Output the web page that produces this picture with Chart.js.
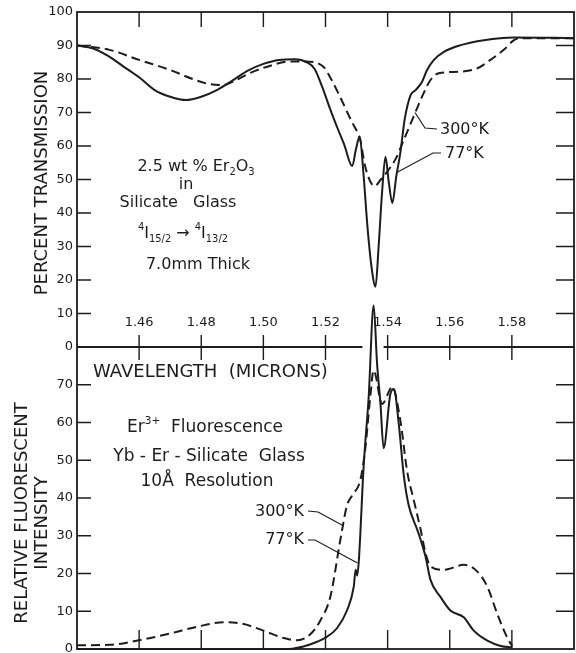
<!DOCTYPE html>
<html>
<head>
<meta charset="utf-8">
<script src="https://cdn.jsdelivr.net/npm/chart.js@4.4.1/dist/chart.umd.min.js"></script>
<style>
  html, body { margin: 0; padding: 0; background: #fff; }
</style>
</head>
<body>
<canvas id="erChart" width="576" height="653"></canvas>
<script>
// wavelength axis (microns), labelled every 0.02
const wavelengthTicks = [1.46, 1.48, 1.50, 1.52, 1.54, 1.56, 1.58];

// absorption: percent transmission, 77 K (solid)
const trans77Wl = [1.44, 1.445, 1.45, 1.455, 1.46, 1.465, 1.47, 1.475, 1.48, 1.485, 1.49, 1.495, 1.50, 1.505, 1.51,
  1.514, 1.5165, 1.519, 1.5215, 1.524, 1.526, 1.5286, 1.5298, 1.531, 1.5322, 1.5335, 1.5348, 1.5361, 1.5371, 1.5382,
  1.5393, 1.5404, 1.5415, 1.5428, 1.5441, 1.5455, 1.5474, 1.549, 1.5511, 1.5527, 1.5549, 1.5581, 1.5635, 1.571, 1.5807, 1.60];
const trans77Pct = [90, 89.2, 86.9, 83.7, 80.5, 76.7, 74.7, 73.7, 74.7, 76.7, 79.5, 82.5, 84.5, 85.7, 85.9,
  85.0, 83, 77.5, 71, 65, 60.5, 54, 59, 62.8, 52, 36, 24, 18, 30, 46,
  56.8, 49, 43, 51, 58, 68, 75.2, 76.7, 79.2, 82.7, 85.7, 88.1, 90.1, 91.6, 92.4, 92.2];

// absorption: percent transmission, 300 K (dashed)
const trans300Wl = [1.44, 1.4505, 1.46, 1.47, 1.4775, 1.4825, 1.487, 1.4902, 1.4955, 1.502, 1.5083, 1.5138, 1.5195,
  1.5215, 1.524, 1.5286, 1.5303, 1.5312, 1.5328, 1.5358, 1.5378, 1.540, 1.5425, 1.5452, 1.549, 1.5516, 1.5538,
  1.5565, 1.5635, 1.5689, 1.5731, 1.5774, 1.5807, 1.583, 1.60];
const trans300Pct = [90, 88.7, 85.7, 82.7, 79.9, 78.5, 78.2, 79.2, 81.7, 83.9, 85.2, 85.2, 83.5,
  80.5, 76, 67, 64, 61.8, 53.8, 48, 50, 52.5, 56, 61.8, 70.2, 75.8, 79.7,
  81.7, 82.2, 83.2, 85.7, 88.7, 91.6, 92.2, 92.2];

// fluorescence: relative intensity, 77 K (solid)
const fluor77Wl = [1.44, 1.47, 1.50, 1.508, 1.515, 1.52, 1.5237, 1.5269, 1.5291, 1.5297, 1.5302, 1.5307, 1.5323,
  1.5339, 1.5355, 1.5366, 1.5377, 1.5387, 1.5409, 1.542, 1.5436, 1.5452, 1.5468, 1.5495, 1.5506, 1.5522, 1.5538,
  1.557, 1.5602, 1.5645, 1.5678, 1.5721, 1.5764, 1.5801];
const fluor77Int = [0, 0, 0, 0, 1.2, 3, 5.5, 10.2, 16.5, 21, 19.5, 23, 48.7,
  66.7, 91, 75.6, 64.9, 53.2, 67.6, 68.9, 59.5, 46, 38, 31.7, 29, 24.5, 18.3,
  13.8, 10.2, 8.4, 4.8, 2.2, 0.8, 0.4];

// fluorescence: relative intensity, 300 K (dashed)
const fluor300Wl = [1.44, 1.4506, 1.4599, 1.47, 1.4787, 1.4873, 1.4937, 1.5002, 1.5066, 1.5109, 1.5151, 1.5183,
  1.5216, 1.5248, 1.5269, 1.5286, 1.5312, 1.5328, 1.5344, 1.5355, 1.5382, 1.5415, 1.5441, 1.5463, 1.5484, 1.5506,
  1.5522, 1.5538, 1.5581, 1.5645, 1.5689, 1.5721, 1.5753, 1.5785, 1.5801];
const fluor300Int = [1, 1.1, 2.3, 4.1, 5.9, 7.1, 6.6, 4.8, 2.9, 2.3, 3.9, 7.5,
  14, 29, 38, 40.7, 44.7, 53, 66.7, 73.8, 64.9, 69.4, 60.5, 47, 39.5, 31.7,
  25.4, 21.9, 21, 22.3, 20.5, 16.5, 9.3, 3, 0.8];

const INK = '#1c1c1c';
const FONT = '"DejaVu Sans", sans-serif';

function pts(xs, ys) { return xs.map((x, i) => ({ x: x, y: ys[i] })); }

function series(label, xs, ys, axis, dashed) {
  return {
    label: label,
    data: pts(xs, ys),
    yAxisID: axis,
    borderColor: INK,
    borderWidth: 2,
    borderDash: dashed ? [9, 5] : [],
    pointRadius: 0,
    cubicInterpolationMode: 'monotone',
    clip: axis === 'yB' ? false : undefined
  };
}

// keep both stacked value axes the same width, and let the edge labels hang over
function fixAxis(s) { s.width = 77; s.paddingTop = 0; s.paddingBottom = 0; }

// mixed text runs with sub/superscripts
function richText(ctx, parts, x, y, size, align) {
  const runs = parts.map(p => {
    const sz = p.sub || p.sup ? size * 0.62 : size;
    ctx.font = sz + 'px ' + FONT;
    return { t: p.t, sz: sz, dy: p.sub ? size * 0.32 : (p.sup ? -size * 0.42 : 0), w: ctx.measureText(p.t).width };
  });
  const total = runs.reduce((a, r) => a + r.w, 0);
  let cx = align === 'center' ? x - total / 2 : (align === 'right' ? x - total : x);
  ctx.textAlign = 'left';
  ctx.textBaseline = 'middle';
  runs.forEach(r => {
    ctx.font = r.sz + 'px ' + FONT;
    ctx.fillText(r.t, cx, y + r.dy);
    cx += r.w;
  });
}

const framePlugin = {
  id: 'frame',
  afterDraw(chart) {
    const { ctx, chartArea: a } = chart;
    const x = chart.scales.x, yT = chart.scales.yT, yB = chart.scales.yB;
    const mid = yT.getPixelForValue(0);
    ctx.save();
    ctx.strokeStyle = INK;
    ctx.fillStyle = INK;
    ctx.lineWidth = 1.8;
    ctx.setLineDash([]);

    // outer box
    ctx.strokeRect(a.left, a.top, a.right - a.left, a.bottom - a.top);

    // shared wavelength axis between the panels, open where the peaks pass
    ctx.beginPath();
    ctx.moveTo(a.left, mid);
    ctx.lineTo(x.getPixelForValue(1.5319), mid);
    ctx.moveTo(x.getPixelForValue(1.5387), mid);
    ctx.lineTo(a.right, mid);
    ctx.stroke();

    // wavelength ticks on top, middle and bottom lines
    ctx.lineWidth = 1.4;
    ctx.beginPath();
    wavelengthTicks.forEach(w => {
      const px = x.getPixelForValue(w);
      ctx.moveTo(px, a.top); ctx.lineTo(px, a.top + 15);
      ctx.moveTo(px, mid - 12); ctx.lineTo(px, mid + 13);
      ctx.moveTo(px, a.bottom - 19); ctx.lineTo(px, a.bottom);
    });
    // value ticks, pointing inward on both sides
    for (let v = 10; v <= 90; v += 10) {
      const py = yT.getPixelForValue(v);
      ctx.moveTo(a.left, py); ctx.lineTo(a.left + 14, py);
      ctx.moveTo(a.right, py); ctx.lineTo(a.right - 18, py);
    }
    for (let v = 10; v <= 70; v += 10) {
      const py = yB.getPixelForValue(v);
      ctx.moveTo(a.left, py); ctx.lineTo(a.left + 14, py);
      ctx.moveTo(a.right, py); ctx.lineTo(a.right - 18, py);
    }
    ctx.stroke();

    // wavelength labels sit just above the middle line
    ctx.font = '13px ' + FONT;
    ctx.textAlign = 'center';
    ctx.textBaseline = 'middle';
    wavelengthTicks.forEach(w => ctx.fillText(w.toFixed(2), x.getPixelForValue(w), mid - 24));

    ctx.font = '18px ' + FONT;
    ctx.textAlign = 'left';
    ctx.fillText('WAVELENGTH  (MICRONS)', 93, mid + 25);

    // axis titles
    const vTitle = (t, cx, cy) => {
      ctx.save();
      ctx.translate(cx, cy);
      ctx.rotate(-Math.PI / 2);
      ctx.font = '18px ' + FONT;
      ctx.textAlign = 'center';
      ctx.textBaseline = 'middle';
      ctx.fillText(t, 0, 0);
      ctx.restore();
    };
    vTitle('PERCENT TRANSMISSION', 42, 183);
    vTitle('RELATIVE FLUORESCENT', 22, 513);
    vTitle('INTENSITY', 42, 523);

    // sample notes, absorption panel
    richText(ctx, [{ t: '2.5 wt % Er' }, { t: '2', sub: true }, { t: 'O' }, { t: '3', sub: true }], 196, 167, 16, 'center');
    richText(ctx, [{ t: 'in' }], 186, 185, 16, 'center');
    richText(ctx, [{ t: 'Silicate   Glass' }], 178, 203, 16, 'center');
    richText(ctx, [{ t: '4', sup: true }, { t: 'I' }, { t: '15/2', sub: true }, { t: ' \u2192 ' },
      { t: '4', sup: true }, { t: 'I' }, { t: '13/2', sub: true }], 183, 234, 16, 'center');
    richText(ctx, [{ t: '7.0mm Thick' }], 198, 265, 16, 'center');

    // sample notes, fluorescence panel
    richText(ctx, [{ t: 'Er' }, { t: '3+', sup: true }, { t: '  Fluorescence' }], 205, 428, 17, 'center');
    richText(ctx, [{ t: 'Yb - Er - Silicate  Glass' }], 209, 457, 17, 'center');
    richText(ctx, [{ t: '10\u00c5  Resolution' }], 207, 482, 17, 'center');

    // temperature labels with leaders
    ctx.lineWidth = 1.2;
    const leader = (pts) => {
      ctx.beginPath();
      ctx.moveTo(pts[0][0], pts[0][1]);
      for (let i = 1; i < pts.length; i++) ctx.lineTo(pts[i][0], pts[i][1]);
      ctx.stroke();
    };
    richText(ctx, [{ t: '300\u00b0K' }], 440, 130, 16, 'left');
    leader([[437, 129], [425, 128], [x.getPixelForValue(1.5488), yT.getPixelForValue(70)]]);
    richText(ctx, [{ t: '77\u00b0K' }], 445, 154, 16, 'left');
    leader([[441, 153], [433, 153], [x.getPixelForValue(1.5428), yT.getPixelForValue(52)]]);

    richText(ctx, [{ t: '300\u00b0K' }], 304, 512, 16, 'right');
    leader([[308, 511], [318, 512], [x.getPixelForValue(1.5259), yB.getPixelForValue(32.6)]]);
    richText(ctx, [{ t: '77\u00b0K' }], 304, 540, 16, 'right');
    leader([[308, 540], [315, 540], [x.getPixelForValue(1.5303), yB.getPixelForValue(22.8)]]);

    ctx.restore();
  }
};

const valueTicks = { stepSize: 10, autoSkip: false, padding: 4, color: INK, font: { family: FONT, size: 13 } };

new Chart(document.getElementById('erChart'), {
  type: 'line',
  data: {
    datasets: [
      series('77\u00b0K transmission', trans77Wl, trans77Pct, 'yT', false),
      series('300\u00b0K transmission', trans300Wl, trans300Pct, 'yT', true),
      series('77\u00b0K fluorescence', fluor77Wl, fluor77Int, 'yB', false),
      series('300\u00b0K fluorescence', fluor300Wl, fluor300Int, 'yB', true)
    ]
  },
  options: {
    responsive: false,
    animation: false,
    layout: { padding: { top: 12, right: 2, bottom: 4, left: 0 } },
    plugins: { legend: { display: false }, tooltip: { enabled: false } },
    scales: {
      x: { type: 'linear', min: 1.44, max: 1.60, display: false },
      yT: {
        type: 'linear', position: 'left', stack: 'panels', stackWeight: 335, weight: 2,
        min: 0, max: 100,
        ticks: valueTicks,
        grid: { display: false, drawTicks: false },
        border: { display: false },
        afterFit: fixAxis
      },
      yB: {
        type: 'linear', position: 'left', stack: 'panels', stackWeight: 302, weight: 1,
        min: 0, max: 80,
        ticks: Object.assign({}, valueTicks, { callback: v => (v >= 80 ? '' : v) }),
        grid: { display: false, drawTicks: false },
        border: { display: false },
        afterFit: fixAxis
      }
    }
  },
  plugins: [framePlugin]
});
</script>
</body>
</html>
